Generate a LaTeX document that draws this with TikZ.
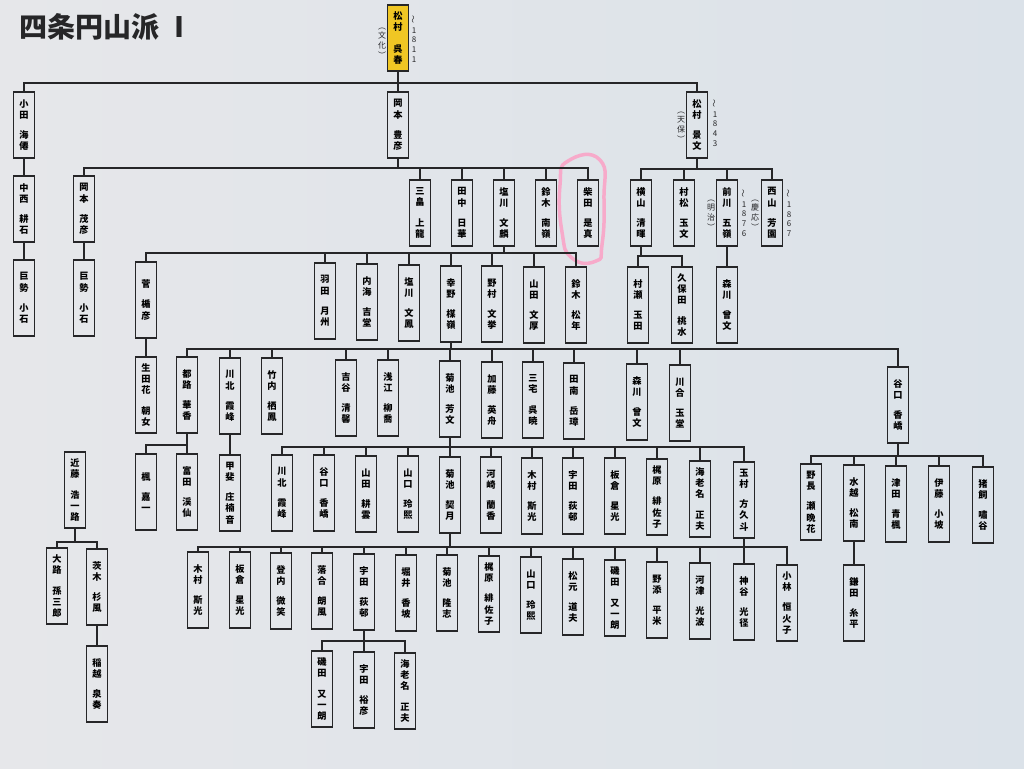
\documentclass[tikz,border=0pt]{standalone}
\usepackage{fontspec}
\usepackage{graphicx}
\newfontfamily\jp{Noto Sans CJK JP}
\definecolor{paperL}{RGB}{230,231,234}
\definecolor{paperR}{RGB}{219,226,233}
\definecolor{ink}{RGB}{38,38,40}
\definecolor{kiiro}{RGB}{240,198,36}
\definecolor{pinkpen}{RGB}{247,170,202}

\begin{document}
\begin{tikzpicture}[x=1pt,y=-1pt,
    namebox/.style={draw=ink,line width=1.4pt,minimum width=21,minimum height=76,inner sep=0pt,align=center,font=\jp\bfseries\fontsize{9.2}{11.2}\selectfont},
    shortbox/.style={namebox,minimum height=66},
    note/.style={inner sep=0pt,align=center,text=ink,font=\jp\fontsize{8}{9.6}\selectfont},
    link/.style={draw=ink,line width=1.4pt}]
    \shade[left color=paperL,right color=paperR] (0,0) rectangle (1024,768);
    \node[anchor=west,text=ink,font=\jp\bfseries\fontsize{28}{32}\selectfont] (title) at (16,27) {四条円山派 Ⅰ};

    % 松村呉春
    \node[shortbox,fill=kiiro] (goshun) at (398,38) {松\\村\\[11pt]呉\\春};
    \node[note] (bunka) at (382,43) {︵\\文\\化\\︶};
    \node[note] (y1811) at (414,39) {\rotatebox{90}{〜}\\1\\8\\1\\1};

    % row 1
    \node[shortbox] (oda) at (24,125) {小\\田\\[9pt]海\\僊};
    \node[shortbox] (okamotoT) at (398,125) {岡\\本\\[9pt]豊\\彦};
    \node[shortbox] (matsumuraK) at (697,125) {松\\村\\[9pt]景\\文};
    \node[note] (tenpo) at (681,127) {︵\\天\\保\\︶};
    \node[note] (y1843) at (715,123) {\rotatebox{90}{〜}\\1\\8\\4\\3};

    % row 2
    \node[shortbox] (nakanishi) at (24,209) {中\\西\\[9pt]耕\\石};
    \node[shortbox] (okamotoS) at (84,209) {岡\\本\\[9pt]茂\\彦};
    \node[shortbox] (mishima) at (420,213) {三\\畠\\[9pt]上\\龍};
    \node[shortbox] (tanaka) at (462,213) {田\\中\\[9pt]日\\華};
    \node[shortbox] (shiokawaB) at (504,213) {塩\\川\\[9pt]文\\麟};
    \node[shortbox] (suzukiN) at (546,213) {鈴\\木\\[9pt]南\\嶺};
    \node[shortbox] (shibata) at (588,213) {柴\\田\\[9pt]是\\真};
    \node[shortbox] (yokoyama) at (641,213) {横\\山\\[9pt]清\\暉};
    \node[shortbox] (muramatsu) at (684,213) {村\\松\\[9pt]玉\\文};
    \node[shortbox] (maekawa) at (727,213) {前\\川\\[9pt]五\\嶺};
    \node[shortbox] (nishiyama) at (772,213) {西\\山\\[9pt]芳\\園};
    \node[note] (meiji) at (711,215) {︵\\明\\治\\︶};
    \node[note] (y1876) at (744,213) {\rotatebox{90}{〜}\\1\\8\\7\\6};
    \node[note] (keio) at (755,215) {︵\\慶\\応\\︶};
    \node[note] (y1867) at (789,213) {\rotatebox{90}{〜}\\1\\8\\6\\7};
    \draw[pinkpen,line width=3.5pt] plot[smooth cycle,tension=0.9] coordinates {(568,161) (600,160) (604,200) (602,245) (596,261) (572,258) (562,232) (560,185)};

    % row 3
    \node[namebox] (kose1) at (24,298) {巨\\勢\\[9pt]小\\石};
    \node[namebox] (kose2) at (84,298) {巨\\勢\\[9pt]小\\石};
    \node[namebox] (suga) at (146,300) {菅\\[9pt]楯\\彦};
    \node[namebox] (hada) at (325,301) {羽\\田\\[9pt]月\\州};
    \node[namebox] (utsumi) at (367,302) {内\\海\\[9pt]吉\\堂};
    \node[namebox] (shiokawaF) at (409,303) {塩\\川\\[9pt]文\\鳳};
    \node[namebox] (kono) at (451,304) {幸\\野\\[9pt]楳\\嶺};
    \node[namebox] (nomura) at (492,304) {野\\村\\[9pt]文\\挙};
    \node[namebox] (yamadaB) at (534,305) {山\\田\\[9pt]文\\厚};
    \node[namebox] (suzukiS) at (576,305) {鈴\\木\\[9pt]松\\年};
    \node[namebox] (murase) at (638,305) {村\\瀬\\[9pt]玉\\田};
    \node[namebox] (kubota) at (682,305) {久\\保\\田\\[9pt]桃\\水};
    \node[namebox] (morikawa1) at (727,305) {森\\川\\[9pt]曾\\文};

    % row 4
    \node[namebox] (ikuta) at (146,395) {生\\田\\花\\[9pt]朝\\女};
    \node[namebox] (tsuji) at (187,395) {都\\路\\[9pt]華\\香};
    \node[namebox] (kawakita1) at (230,396) {川\\北\\[9pt]霞\\峰};
    \node[namebox] (takeuchi) at (272,396) {竹\\内\\[9pt]栖\\鳳};
    \node[namebox] (yoshitani) at (346,398) {吉\\谷\\[9pt]清\\馨};
    \node[namebox] (asae) at (388,398) {浅\\江\\[9pt]柳\\喬};
    \node[namebox] (kikuchiH) at (450,399) {菊\\池\\[9pt]芳\\文};
    \node[namebox] (kato) at (492,400) {加\\藤\\[9pt]英\\舟};
    \node[namebox] (miyake) at (533,400) {三\\宅\\[9pt]呉\\暁};
    \node[namebox] (tanan) at (574,401) {田\\南\\[9pt]岳\\璋};
    \node[namebox] (morikawa2) at (637,402) {森\\川\\[9pt]曾\\文};
    \node[namebox] (kawai) at (680,403) {川\\合\\[9pt]玉\\堂};
    \node[namebox] (taniguchi1) at (898,405) {谷\\口\\[9pt]香\\嶠};

    % row 5
    \node[namebox] (kondo) at (75,490) {近\\藤\\[9pt]浩\\一\\路};
    \node[namebox] (kaede) at (146,492) {楓\\[9pt]嘉\\一};
    \node[namebox] (tomita) at (187,492) {富\\田\\[9pt]渓\\仙};
    \node[namebox] (kainosho) at (230,493) {甲\\斐\\[9pt]庄\\楠\\音};
    \node[namebox] (kawakita2) at (282,493) {川\\北\\[9pt]霞\\峰};
    \node[namebox] (taniguchi2) at (324,493) {谷\\口\\[9pt]香\\嶠};
    \node[namebox] (yamadaK) at (366,494) {山\\田\\[9pt]耕\\雲};
    \node[namebox] (yamaguchi1) at (408,494) {山\\口\\[9pt]玲\\熙};
    \node[namebox] (kikuchiK) at (450,495) {菊\\池\\[9pt]契\\月};
    \node[namebox] (kawasaki) at (491,495) {河\\崎\\[9pt]蘭\\香};
    \node[namebox] (kimura1) at (532,496) {木\\村\\[9pt]斯\\光};
    \node[namebox] (uda1) at (573,496) {宇\\田\\[9pt]荻\\邨};
    \node[namebox] (itakura1) at (615,496) {板\\倉\\[9pt]星\\光};
    \node[namebox] (kajiwara1) at (657,497) {梶\\原\\[9pt]緋\\佐\\子};
    \node[namebox] (ebina1) at (700,499) {海\\老\\名\\[9pt]正\\夫};
    \node[namebox] (tamamura) at (744,500) {玉\\村\\[9pt]方\\久\\斗};
    \node[namebox] (nonagase) at (811,502) {野\\長\\[9pt]瀬\\晩\\花};
    \node[namebox] (mizukoshi) at (854,503) {水\\越\\[9pt]松\\南};
    \node[namebox] (tsuda) at (896,504) {津\\田\\[9pt]青\\楓};
    \node[namebox] (ito) at (939,504) {伊\\藤\\[9pt]小\\坡};
    \node[namebox] (ikai) at (983,505) {猪\\飼\\[9pt]嘯\\谷};

    % row 6
    \node[namebox] (oji) at (57,586) {大\\路\\[9pt]孫\\三\\郎};
    \node[namebox] (ibaraki) at (97,587) {茨\\木\\[9pt]杉\\風};
    \node[namebox] (kimura2) at (198,590) {木\\村\\[9pt]斯\\光};
    \node[namebox] (itakura2) at (240,590) {板\\倉\\[9pt]星\\光};
    \node[namebox] (tonouchi) at (281,591) {登\\内\\[9pt]微\\笑};
    \node[namebox] (ochiai) at (322,591) {落\\合\\[9pt]朗\\風};
    \node[namebox] (uda2) at (364,592) {宇\\田\\[9pt]荻\\邨};
    \node[namebox] (horii) at (406,593) {堀\\井\\[9pt]香\\坡};
    \node[namebox] (kikuchiT) at (447,593) {菊\\池\\[9pt]隆\\志};
    \node[namebox] (kajiwara2) at (489,594) {梶\\原\\[9pt]緋\\佐\\子};
    \node[namebox] (yamaguchi2) at (531,595) {山\\口\\[9pt]玲\\熙};
    \node[namebox] (matsumoto) at (573,597) {松\\元\\[9pt]道\\夫};
    \node[namebox] (isoda1) at (615,598) {磯\\田\\[9pt]又\\一\\朗};
    \node[namebox] (nozoe) at (657,600) {野\\添\\[9pt]平\\米};
    \node[namebox] (kawazu) at (700,601) {河\\津\\[9pt]光\\波};
    \node[namebox] (kamiya) at (744,602) {神\\谷\\[9pt]光\\径};
    \node[namebox] (kobayashi) at (787,603) {小\\林\\[9pt]恒\\火\\子};
    \node[namebox] (kamata) at (854,603) {鎌\\田\\[9pt]糸\\平};

    % row 7
    \node[namebox] (inagoshi) at (97,684) {稲\\越\\[9pt]泉\\奏};
    \node[namebox] (isoda2) at (322,689) {磯\\田\\[9pt]又\\一\\朗};
    \node[namebox] (uda3) at (364,690) {宇\\田\\[9pt]裕\\彦};
    \node[namebox] (ebina2) at (405,691) {海\\老\\名\\[9pt]正\\夫};

    % lines
    \foreach \c in {oda,okamotoT,matsumuraK} \draw[link] (goshun.south) |- (\c.north |- 0,83) -- (\c.north);
    \foreach \c in {okamotoS,mishima,tanaka,shiokawaB,suzukiN,shibata} \draw[link] (okamotoT.south) |- (\c.north |- 0,168) -- (\c.north);
    \foreach \c in {yokoyama,muramatsu,maekawa,nishiyama} \draw[link] (matsumuraK.south) |- (\c.north |- 0,169) -- (\c.north);
    \foreach \c in {suga,hada,utsumi,shiokawaF,kono,nomura,yamadaB,suzukiS} \draw[link] (shiokawaB.south) |- (\c.north |- 0,253) -- (\c.north);
    \foreach \c in {murase,kubota} \draw[link] (yokoyama.south) |- (\c.north |- 0,256) -- (\c.north);
    \foreach \c in {tsuji,kawakita1,takeuchi,yoshitani,asae,kikuchiH,kato,miyake,tanan,morikawa2,kawai,taniguchi1} \draw[link] (kono.south) |- (\c.north |- 0,349) -- (\c.north);
    \foreach \c in {kaede,tomita} \draw[link] (tsuji.south) |- (\c.north |- 0,445) -- (\c.north);
    \foreach \c in {kawakita2,taniguchi2,yamadaK,yamaguchi1,kikuchiK,kawasaki,kimura1,uda1,itakura1,kajiwara1,ebina1,tamamura} \draw[link] (kikuchiH.south) |- (\c.north |- 0,447) -- (\c.north);
    \foreach \c in {nonagase,mizukoshi,tsuda,ito,ikai} \draw[link] (taniguchi1.south) |- (\c.north |- 0,456) -- (\c.north);
    \foreach \c in {oji,ibaraki} \draw[link] (kondo.south) |- (\c.north |- 0,542) -- (\c.north);
    \foreach \c in {kimura2,itakura2,tonouchi,ochiai,uda2,horii,kikuchiT,kajiwara2,yamaguchi2,matsumoto,isoda1,nozoe,kawazu,kamiya} \draw[link] (kikuchiK.south) |- (\c.north |- 0,547) -- (\c.north);
    \draw[link] (tamamura.south) |- (kobayashi.north |- 0,547) -- (kobayashi.north);
    \foreach \c in {isoda2,uda3,ebina2} \draw[link] (uda2.south) |- (\c.north |- 0,641) -- (\c.north);
    \draw[link] (oda.south) -- (nakanishi.north) (nakanishi.south) -- (kose1.north);
    \draw[link] (okamotoS.south) -- (kose2.north);
    \draw[link] (maekawa.south) -- (morikawa1.north);
    \draw[link] (suga.south) -- (ikuta.north);
    \draw[link] (kawakita1.south) -- (kainosho.north);
    \draw[link] (mizukoshi.south) -- (kamata.north);
    \draw[link] (ibaraki.south) -- (inagoshi.north);
\end{tikzpicture}
\end{document}
